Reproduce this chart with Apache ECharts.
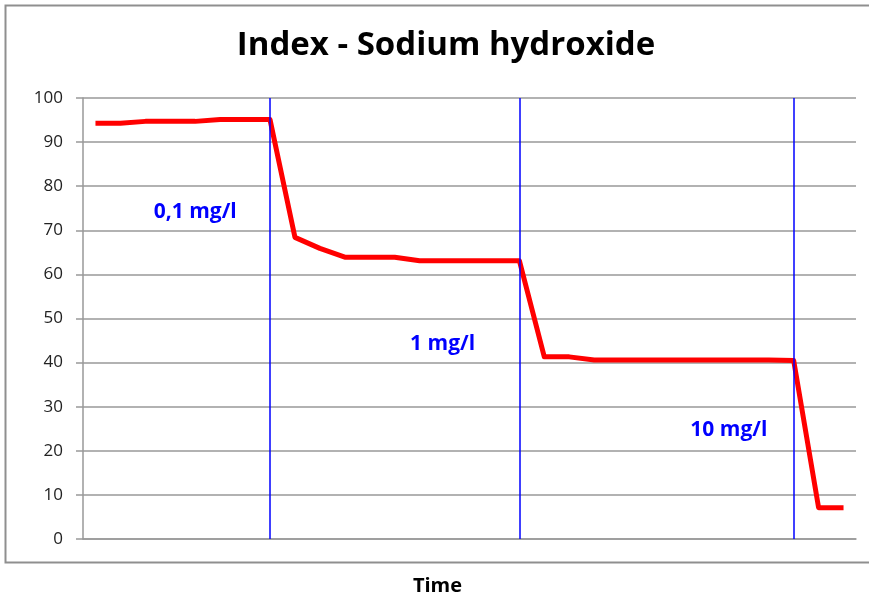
<!DOCTYPE html>
<html>
<head>
<meta charset="utf-8">
<script src="https://cdn.jsdelivr.net/npm/echarts@6/dist/echarts.min.js"></script>
<style>
html,body{margin:0;padding:0;background:#fff;}
#chart{width:869px;height:599px;}
</style>
</head>
<body>
<div id="chart"></div>
<script>
var categories = ['1','2','3','4','5','6','7','8','9','10','11','12','13','14','15','16','17','18','19','20','21','22','23','24','25','26','27','28','29','30','31'];
var indexValues = [94.3,94.3,94.7,94.7,94.7,95.1,95.1,95.1,68.4,65.9,63.9,63.9,63.9,63.1,63.1,63.1,63.1,63.1,41.3,41.3,40.6,40.6,40.6,40.6,40.6,40.6,40.6,40.6,40.5,7.1,7.1];
var doseStartIndices = [7, 17, 28];
var doseLabels = ['0,1 mg/l', '1 mg/l', '10 mg/l'];
var doseLabelCoords = [[4, 74.1], [14, 44.2], [25, 24.7]];
var yTicks = [0,10,20,30,40,50,60,70,80,90,100];

var font = '"Open Sans", "DejaVu Sans", sans-serif';
var chart = echarts.init(document.getElementById('chart'));
var labelOffsets = [[0,0],[-2,0],[10,0]];
chart.setOption({
  animation: false,
  backgroundColor: '#fff',
  title: {
    text: 'Index - Sodium hydroxide',
    left: 441, top: 24, textAlign: 'center',
    textStyle: {fontFamily: font, fontWeight: 'bold', fontSize: 33, color: '#000'}
  },
  graphic: [{
    type: 'rect', shape: {x: 5.5, y: 5.5, width: 880, height: 557},
    style: {fill: 'none', stroke: '#8f8f8f', lineWidth: 2}, silent: true
  }],
  grid: {left: 83, right: 13, top: 98, bottom: 60, containLabel: false, outerBoundsMode: 'none'},
  xAxis: {
    type: 'category', data: categories, boundaryGap: true,
    name: 'Time', nameLocation: 'middle', nameGap: 37,
    nameTextStyle: {fontFamily: font, fontWeight: 'bold', fontSize: 20, color: '#000', padding: [0, 64, 0, 0]},
    axisLine: {show: true, lineStyle: {color: '#999', width: 1.5}},
    axisTick: {show: false}, axisLabel: {show: false}, splitLine: {show: false}
  },
  yAxis: {
    type: 'value', min: 0, max: 100, interval: 10,
    axisLine: {show: true, lineStyle: {color: '#999', width: 1.5}},
    axisTick: {show: true, length: 7, lineStyle: {color: '#999', width: 1.5}},
    axisLabel: {margin: 20, fontFamily: font, fontSize: 17, color: '#222',
      formatter: function (v) { return yTicks.indexOf(v) >= 0 ? String(v) : ''; }},
    splitLine: {show: true, lineStyle: {color: '#999', width: 1.5}}
  },
  series: [{
    type: 'line', data: indexValues, symbol: 'none', smooth: false,
    lineStyle: {color: '#ff0000', width: 5, join: 'round'},
    z: 3,
    markLine: {
      silent: true, symbol: 'none', animation: false,
      label: {show: false},
      lineStyle: {color: '#0000ff', width: 1.5, type: 'solid'},
      data: doseStartIndices.map(function (i) { return {xAxis: i}; })
    },
    markPoint: {
      silent: true, symbol: 'circle', symbolSize: 0,
      label: {show: true, position: 'inside', fontFamily: font, fontWeight: 'bold', fontSize: 21, color: '#0000ff'},
      data: doseLabels.map(function (t, k) {
        return {coord: doseLabelCoords[k], value: t,
          label: {formatter: t, offset: labelOffsets[k]}};
      })
    }
  }]
});
</script>
</body>
</html>
